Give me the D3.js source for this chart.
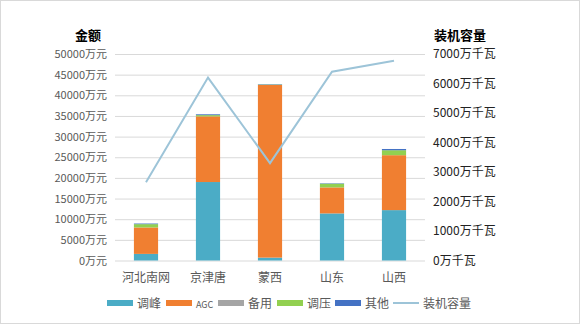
<!DOCTYPE html>
<html><head><meta charset="utf-8">
<script src="https://cdn.jsdelivr.net/npm/d3@7"></script>
<style>
html,body{margin:0;padding:0;background:#fff;}
svg{display:block;}
text{font-family:"Noto Sans CJK SC","Noto Sans",sans-serif;}
</style></head>
<body>
<svg id="chart" width="580" height="324"></svg>
<script>
const categories = ["河北南网","京津唐","蒙西","山东","山西"];
const peakShaving = [1600, 19000, 700, 11400, 12200];   // 调峰
const agc = [6400, 15900, 41800, 6300, 13300];          // AGC
const reserve = [0, 0, 0, 0, 0];                        // 备用
const voltage = [800, 300, 100, 900, 1200];             // 调压
const other = [150, 200, 100, 100, 300];                // 其他
const capacity = [2650, 6200, 3300, 6400, 6770];        // 装机容量
const leftTicks = [0,5000,10000,15000,20000,25000,30000,35000,40000,45000,50000];
const rightTicks = [0,1000,2000,3000,4000,5000,6000,7000];

const seriesNames = ["调峰","AGC","备用","调压","其他"];
const seriesData = [peakShaving, agc, reserve, voltage, other];
const colors = ["#4bacc6","#f07f31","#a5a5a5","#92d050","#4472c4"];
const lineColor = "#9dc4d8";

const svg = d3.select("#chart");
svg.append("rect").attr("x",0.5).attr("y",0.5).attr("width",579).attr("height",323)
  .attr("fill","#fff").attr("stroke","#d9d9d9");

const x0 = 115, x1 = 425, yBot = 260.5, yTop = 54;
const x = d3.scaleBand().domain(categories).range([x0,x1]).paddingInner(0.61).paddingOuter(0.305);
const yL = d3.scaleLinear().domain([0,50000]).range([yBot,yTop]);
const yR = d3.scaleLinear().domain([0,7000]).range([yBot,yTop]);

// gridlines
const grid = svg.append("g").attr("transform",`translate(${x0},0)`)
  .call(d3.axisLeft(yL).tickValues(leftTicks).tickSize(-(x1-x0)).tickFormat(""));
grid.select(".domain").remove();
grid.selectAll("line").attr("stroke","#d9d9d9");

// left axis labels
const la = svg.append("g").attr("transform",`translate(107,0)`)
  .call(d3.axisLeft(yL).tickValues(leftTicks).tickSize(0).tickPadding(0).tickFormat(d=>d+"万元"));
la.select(".domain").remove();
la.selectAll("text").attr("font-size","11px").attr("fill","#595959")
  .style("font-family","'Noto Sans CJK SC',sans-serif");

// right axis labels
const ra = svg.append("g").attr("transform",`translate(433,0)`)
  .call(d3.axisRight(yR).tickValues(rightTicks).tickSize(0).tickPadding(0).tickFormat(d=>d+"万千瓦"));
ra.select(".domain").remove();
ra.selectAll("text").attr("font-size","12px").attr("fill","#222")
  .style("font-family","'Noto Sans CJK SC',sans-serif");

// axis titles
svg.append("text").attr("x",88).attr("y",40).attr("text-anchor","middle")
  .attr("font-size","13px").attr("font-weight","bold").attr("fill","#000").text("金额");
svg.append("text").attr("x",434).attr("y",40).attr("text-anchor","start")
  .attr("font-size","13px").attr("font-weight","bold").attr("fill","#000").text("装机容量");

// stacked bars
const rows = categories.map((c,i)=>{
  const o = {cat:c};
  seriesNames.forEach((s,j)=>o[s]=seriesData[j][i]);
  return o;
});
const stack = d3.stack().keys(seriesNames)(rows);
svg.append("g").selectAll("g").data(stack).join("g")
  .attr("fill",(d,i)=>colors[i])
  .selectAll("rect").data(d=>d).join("rect")
  .attr("x",d=>x(d.data.cat))
  .attr("width",x.bandwidth())
  .attr("y",d=>yL(d[1]))
  .attr("height",d=>Math.max(0,yL(d[0])-yL(d[1])));

// capacity line
const line = d3.line().x((d,i)=>x(categories[i])+x.bandwidth()/2).y(d=>yR(d));
svg.append("path").datum(capacity).attr("d",line)
  .attr("fill","none").attr("stroke",lineColor).attr("stroke-width",2);

// category labels
svg.append("g").selectAll("text").data(categories).join("text")
  .attr("x",d=>x(d)+x.bandwidth()/2).attr("y",282)
  .attr("text-anchor","middle").attr("font-size","12px").attr("fill","#595959").text(d=>d);

// legend
const legendItems = [
  {name:"调峰",color:colors[0],x:107,type:"rect",fs:12},
  {name:"AGC",color:colors[1],x:166,type:"rect",fs:9},
  {name:"备用",color:colors[2],x:218,type:"rect",fs:12},
  {name:"调压",color:colors[3],x:277,type:"rect",fs:12},
  {name:"其他",color:colors[4],x:335,type:"rect",fs:12},
  {name:"装机容量",color:lineColor,x:393,type:"line",fs:12}
];
const lg = svg.append("g");
legendItems.forEach(it=>{
  if(it.type==="rect"){
    lg.append("rect").attr("x",it.x).attr("y",300).attr("width",26).attr("height",6).attr("fill",it.color);
  } else {
    lg.append("line").attr("x1",it.x).attr("x2",it.x+26).attr("y1",303).attr("y2",303)
      .attr("stroke",it.color).attr("stroke-width",2);
  }
  lg.append("text").attr("x",it.x+30).attr("y",307.5).attr("font-size",it.fs+"px")
    .attr("fill","#595959").text(it.name);
});
</script>
</body></html>
